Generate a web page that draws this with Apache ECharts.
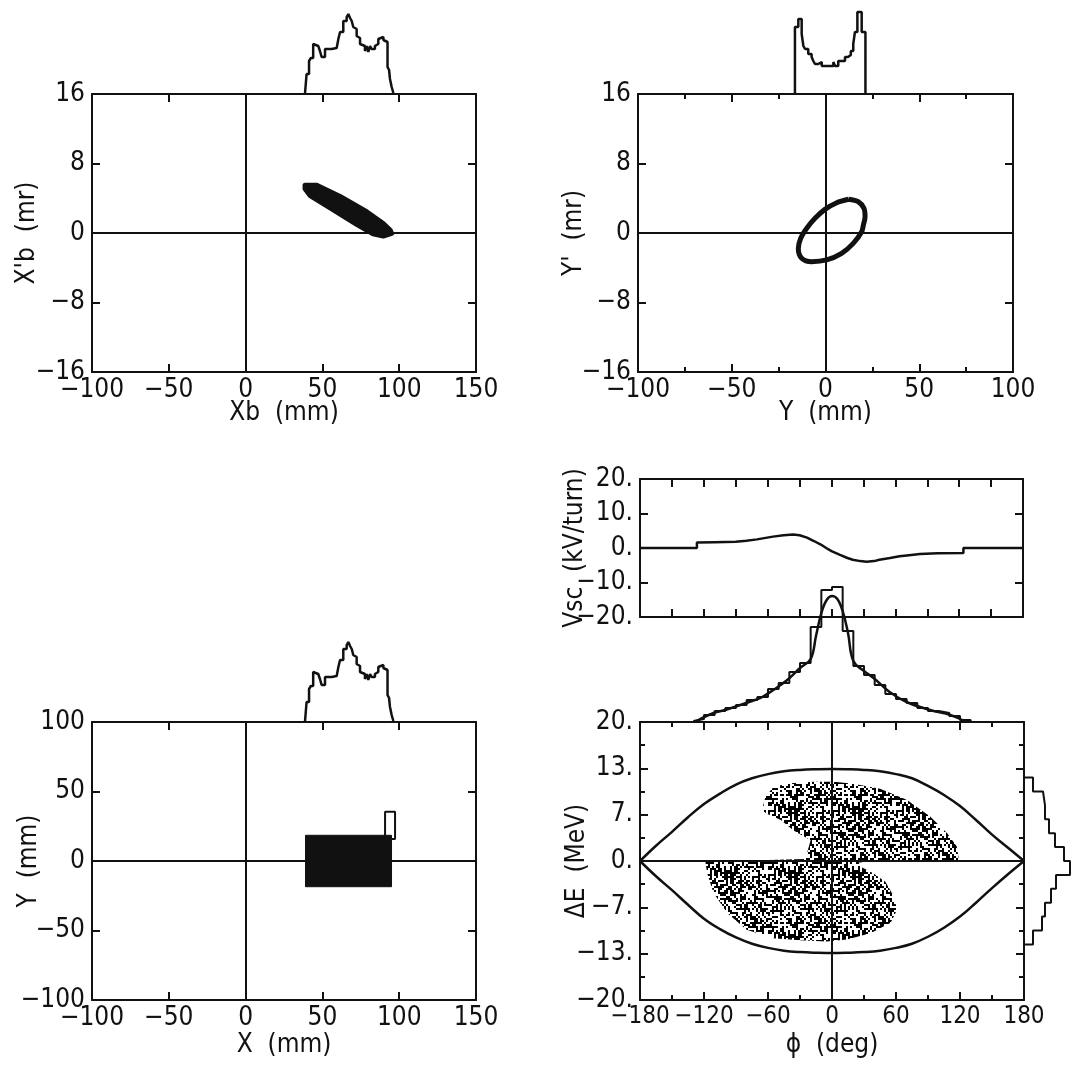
<!DOCTYPE html>
<html><head><meta charset="utf-8">
<script src="https://cdn.jsdelivr.net/npm/echarts@6/dist/echarts.min.js"></script>
<style>html,body{margin:0;padding:0;background:#fff}#c{width:1073px;height:1072px}</style>
</head><body><div id="c"></div><script>
const FONT = "'Liberation Sans Narrow','DejaVu Sans Condensed','Liberation Sans',sans-serif";
const FS = 26;
const INK = '#111';

// ---------------- DATA ----------------
// Top-left: (Xb, X'b) beam outline (filled)
const xbOutlineXb  = [38.7, 46.3, 61.5, 78.8, 89.6, 94.0, 95.1, 89.6, 83.0, 72.3, 55.0, 42.0, 38.7];
const xbOutlineXpb = [5.5, 5.5, 4.2, 2.45, 1.1, 0.35, -0.04, -0.35, -0.1, 1.0, 2.9, 4.3, 5.1];
// Top-right: (Y, Y') ring (centre line)
const yRingY  = [12.2, 17.5, 20.5, 21.1, 20.2, 19.3, 14.8, 8.6, 0.6, -7.4, -12.7, -14.5, -13.2, -10.0, -5.6, -0.3, 6.0, 12.2];
const yRingYp = [3.88, 3.6, 2.84, 1.88, 0.92, 0.15, -1.19, -2.34, -3.1, -3.3, -2.9, -1.77, -0.6, 0.54, 1.69, 2.72, 3.49, 3.88];
// X profile histogram (bin edges in mm, counts)
const xHistEdges = [38.7,39.7,41.3,42.5,44.0,45.0,47.3,48.4,49.5,51.7,56.0,59.3,60.4,61.5,63.6,65.8,66.9,68.0,69.1,70.1,71.2,72.3,73.4,74.5,75.6,77.7,78.8,79.9,81.0,82.0,84.2,85.3,86.4,87.5,89.7,90.7,92.4,93.4,94.0,95.1,96.2];
const xHistCounts = [2,19,32,35,49,47,46,42,36,44,45,47,54,61,72,76,79,75,72,66,64,57,55,49,47,42,47,41,47,44,47,49,54,56,53,51,26,23,14,6];
// Y profile histogram
const yHistEdges = [-16.3,-14.5,-12.7,-11.8,-10.9,-9.2,-7.4,-6.5,-5.6,-3.8,-2.0,4.2,5.1,6.8,10.4,12.0,13.5,14.8,15.7,17.0,19.3,21.3];
const yHistCounts = [66,74,59,47,44,39,36,32,29,31,27,31,27,32,36,38,42,49,61,81,61];
// Bottom-left: (X, Y) beam block and small box
const xyBlockX = [39, 95, 95, 39];
const xyBlockY = [18.5, 18.5, -18.5, -18.5];
const xyBoxX = [90.8, 97.3, 97.3, 90.8, 90.8];
const xyBoxY = [15.8, 15.8, 35.5, 35.5, 15.8];
// Space-charge voltage vs phase
const vscPhi = [-180,-126.5,-126.5,-110,-90,-80,-70,-55,-45,-36,-30,-23,-17,-10,-5,0,8,15,20,27,33,40,45,55,64,75,83,100,124,124,180];
const vscVal = [0,0,1.6,1.7,1.8,2.1,2.5,3.3,3.7,3.9,3.7,3.0,2.1,1.0,0,-0.9,-2.0,-2.9,-3.4,-3.8,-4.0,-3.8,-3.4,-2.9,-2.4,-2.0,-1.75,-1.5,-1.45,0,0];
// Separatrix
const sepPhi   = [-180,-165,-150,-135,-120,-105,-90,-75,-60,-45,-30,-15,0,15,30,45,60,75,90,105,120,135,150,165,180];
const sepUpper = [0,2.2,4.2,6.3,8.2,9.7,11.0,11.9,12.5,12.9,13.1,13.2,13.25,13.2,13.1,12.9,12.5,11.9,10.8,9.5,7.9,5.9,3.8,1.9,0];
const sepLower = [0,-2.2,-4.2,-6.3,-8.3,-9.8,-11.0,-11.9,-12.5,-12.9,-13.1,-13.2,-13.25,-13.2,-13.1,-12.9,-12.5,-11.9,-10.9,-9.6,-8.0,-6.0,-3.9,-1.9,0];
// Particle cloud outline in (phi, dE)
const cloudPhi = [-118.8,-70,-25,-20,-36,-48,-61,-65.6,-62.5,-54.7,-39,-17,1.6,20,45,70,92,108,117,119,60,25,26.5,39,50,58,61,55,36,14,-5,-30,-55,-80,-98,-111,-117];
const cloudDE  = [0,0.1,0.3,3,4.4,5.9,6.8,7.3,9.2,10.7,11.2,11.4,11.4,11.1,10.4,8.8,6.4,4.0,2.1,0.1,0.0,-0.2,-0.8,-1.8,-3.0,-5.1,-7.0,-8.9,-10.4,-11.3,-11.6,-11.4,-11.1,-9.9,-7.5,-4.6,-1.8];
const corePhi = [-22,-12,0,12,24,28,18,0,-12,-22];
const coreDE  = [1,4,5.5,3.5,0,-3.5,-5.5,-6,-3.5,-1];
// Phase histogram and fitted curve
const phiHistEdges = [-130,-120,-110,-100,-90,-80,-70,-60,-50,-40,-30,-20,-10,0,10,20,30,40,50,60,70,80,90,100,110,120,130];
const phiHistCounts = [2,6,10,13,16,21,24,32,38,49,58,94,131,134,90,55,46,36,27,22,18,13,10,8,5,1];
const phiFitPhi = [-127,-111,-100,-86,-75,-67,-55,-42,-30,-20,-15,-10,-5,0,5,10,15,20,30,39,54,70,92,111,124];
const phiFitVal = [0,8,11,16,20,23,31,41,53,62,85,108,121,125,122,110,88,60,50,43,29,19,11,6,0];
// Energy histogram
const dEHistEdges = [-12,-10,-8,-6,-4,-2,0,2,4,6,8,10,12];
const dEHistCounts = [8,17,20,26,31,45,39,30,24,20,18,8];

// ---------------- HELPERS ----------------
const option = {animation:false, backgroundColor:'#fff', grid:[], xAxis:[], yAxis:[], series:[]};
const lineS = {color:INK, width:2};
const txt = {color:INK, fontFamily:FONT, fontSize:FS, overflow:'none'};
const minus = v => String(v).replace('-', '\u2212');
function addGrid(box){ option.grid.push(Object.assign({show:false, containLabel:false, outerBoundsMode:'none'}, box)); return option.grid.length-1; }
function axisBase(g, c){
  return {gridIndex:g, type:'value', min:c.min, max:c.max, interval:c.interval, splitLine:{show:false},
    axisLine:{show:true,onZero:false,lineStyle:lineS},
    axisTick:{show:true,inside:true,length:8,lineStyle:lineS},
    minorTick:{show:!!c.minor, splitNumber:c.minor||2, length:5, lineStyle:lineS}};
}
function mainX(g, c){
  const lab = {show:c.labels!==false, color:INK, fontFamily:FONT, fontSize:c.fs||FS, margin:5, showMinLabel:true, showMaxLabel:true, hideOverlap:false, formatter:c.fmt||minus};
  const ax = Object.assign(axisBase(g,c), {position:'bottom', axisLabel:lab, nameMoveOverlap:false});
  if (c.name) Object.assign(ax, {name:c.name, nameLocation:'middle', nameGap:c.nameGap||30, nameTextStyle:txt});
  option.xAxis.push(ax);
  const i = option.xAxis.length-1;
  option.xAxis.push(Object.assign(axisBase(g,c), {position:'top', axisLabel:{show:false}}));
  return i;
}
function mainY(g, c){
  option.yAxis.push(Object.assign(axisBase(g,c), {position:'left',
    axisLabel:{show:true, color:INK, fontFamily:FONT, fontSize:FS, margin:7, showMinLabel:true, showMaxLabel:true, hideOverlap:false, formatter:c.fmt||minus},
    name:c.name||'', nameLocation:'middle', nameGap:c.nameGap||50, nameRotate:90, nameMoveOverlap:false, nameTextStyle:txt}));
  const i = option.yAxis.length-1;
  option.yAxis.push(Object.assign(axisBase(g,c), {position:'right', axisLabel:{show:false}}));
  return i;
}
function hidX(g,min,max){ option.xAxis.push({gridIndex:g,type:'value',min,max,show:false,splitLine:{show:false}}); return option.xAxis.length-1; }
function hidY(g,min,max){ option.yAxis.push({gridIndex:g,type:'value',min,max,show:false,splitLine:{show:false}}); return option.yAxis.length-1; }
function line(xi, yi, data, extra){
  option.series.push(Object.assign({type:'line', xAxisIndex:xi, yAxisIndex:yi, data, symbol:'none', showSymbol:false, silent:true, clip:false,
    lineStyle:{color:INK,width:2}}, extra||{}));
}
function zeroLines(xi, yi){
  option.series.push({type:'line', xAxisIndex:xi, yAxisIndex:yi, data:[[0,0]], symbol:'none', showSymbol:false, silent:true, lineStyle:{width:0},
    markLine:{silent:true, symbol:'none', label:{show:false}, animation:false, lineStyle:{color:INK,width:2,type:'solid'}, data:[{xAxis:0},{yAxis:0}]}});
}
function polygon(xi, yi, xs, ys, style){
  option.series.push({type:'custom', xAxisIndex:xi, yAxisIndex:yi, silent:true, clip:false,
    data: xs.map((x,i)=>[x, ys[i]]), encode:{x:0, y:1},
    renderItem: (params, api) => {
      if (params.dataIndex !== 0) return null;
      return {type:'polygon', shape:{points: xs.map((x,i)=>api.coord([x, ys[i]]))}, style: style};
    }});
}
function stepPts(edges, counts){
  const p = [[edges[0],0]];
  counts.forEach((c,i)=>{ p.push([edges[i],c]); p.push([edges[i+1],c]); });
  p.push([edges[edges.length-1],0]);
  return p;
}
// stipple texture (pure styling): 2px cells switched on by a fixed integer hash
function stipple(size, pct, color){
  const c = document.createElement('canvas'); c.width = c.height = size;
  const g = c.getContext('2d'); g.fillStyle = color;
  for (let i=0;i<size/2;i++) for (let j=0;j<size/2;j++){
    let h = (i*374761393 + j*668265263) >>> 0; h = ((h ^ (h>>>13)) * 1274126177) >>> 0; h = (h ^ (h>>>16)) >>> 0;
    if (h % 100 < pct) g.fillRect(i*2, j*2, 2, 2);
  }
  return c;
}

// ---------------- PANELS ----------------
// Top-left
const gTL = addGrid({left:92, top:94, width:384, height:278});
const xTL = mainX(gTL, {min:-100,max:150,interval:50,name:'Xb  (mm)',nameGap:28});
const yTL = mainY(gTL, {min:-16,max:16,interval:8,name:"X'b  (mr)",nameGap:52});
zeroLines(xTL, yTL);
polygon(xTL, yTL, xbOutlineXb, xbOutlineXpb, {fill:INK, stroke:INK, lineWidth:5, lineJoin:'round'});

// Top-right
const gTR = addGrid({left:638, top:94, width:375, height:278});
const xTR = mainX(gTR, {min:-100,max:100,interval:50,minor:2,name:'Y  (mm)',nameGap:28});
const yTR = mainY(gTR, {min:-16,max:16,interval:8,name:"Y'  (mr)",nameGap:51});
zeroLines(xTR, yTR);
line(xTR, yTR, yRingY.map((v,i)=>[v, yRingYp[i]]), {smooth:0.3, lineStyle:{color:INK,width:5}});

// Histograms above top panels
const gHTL = addGrid({left:92, top:10, width:384, height:83});
const xHTL = hidX(gHTL,-100,150), yHTL = hidY(gHTL,0,83);
line(xHTL, yHTL, stepPts(xHistEdges, xHistCounts), {lineStyle:{color:INK,width:2.5}});
const gHTR = addGrid({left:638, top:10, width:375, height:83});
const xHTR = hidX(gHTR,-100,100), yHTR = hidY(gHTR,0,83);
line(xHTR, yHTR, stepPts(yHistEdges, yHistCounts), {lineStyle:{color:INK,width:2.5}});

// Vsc panel
const gV = addGrid({left:640, top:479, width:383, height:138});
const xV = mainX(gV, {min:-180,max:180,interval:30,labels:false});
const yV = mainY(gV, {min:-20,max:20,interval:10,name:'Vsc  (kV/turn)',nameGap:52, fmt:v=>minus(v)+'.'});
line(xV, yV, vscPhi.map((p,i)=>[p, vscVal[i]]), {lineStyle:{color:INK,width:2.5}});

// Bottom-left
const gBL = addGrid({left:92, top:722, width:384, height:278});
const xBL = mainX(gBL, {min:-100,max:150,interval:50,name:'X  (mm)',nameGap:32});
const yBL = mainY(gBL, {min:-100,max:100,interval:50,name:'Y  (mm)',nameGap:50});
zeroLines(xBL, yBL);
polygon(xBL, yBL, xyBlockX, xyBlockY, {fill:INK, stroke:INK, lineWidth:1});
line(xBL, yBL, xyBoxX.map((x,i)=>[x, xyBoxY[i]]));
const gHBL = addGrid({left:92, top:638, width:384, height:83});
const xHBL = hidX(gHBL,-100,150), yHBL = hidY(gHBL,0,83);
line(xHBL, yHBL, stepPts(xHistEdges, xHistCounts), {lineStyle:{color:INK,width:2.5}});

// Bottom-right phase space
const gBR = addGrid({left:640, top:722, width:384, height:278});
const xBR = mainX(gBR, {min:-180,max:180,interval:60,minor:2,fs:24,name:'\u03d5  (deg)',nameGap:32});
const yBR = mainY(gBR, {min:-20,max:20,interval:20/3,minor:2,name:'\u0394E  (MeV)',nameGap:50, fmt:v=>minus(Math.round(v))+'.'});
polygon(xBR, yBR, cloudPhi, cloudDE, {fill:{image:stipple(64,50,'#000'), repeat:'repeat'}});
polygon(xBR, yBR, corePhi, coreDE, {fill:{image:stipple(64,40,'#000'), repeat:'repeat'}});
zeroLines(xBR, yBR);
line(xBR, yBR, sepPhi.map((p,i)=>[p, sepUpper[i]]), {smooth:0.4, lineStyle:{color:INK,width:2.5}});
line(xBR, yBR, sepPhi.map((p,i)=>[p, sepLower[i]]), {smooth:0.4, lineStyle:{color:INK,width:2.5}});
const gHBR = addGrid({left:640, top:582, width:384, height:139});
const xHBR = hidX(gHBR,-180,180), yHBR = hidY(gHBR,0,139);
line(xHBR, yHBR, stepPts(phiHistEdges, phiHistCounts), {lineStyle:{color:INK,width:2}});
line(xHBR, yHBR, phiFitPhi.map((p,i)=>[p, phiFitVal[i]]), {smooth:0.4, lineStyle:{color:INK,width:2.5}});
const gHR = addGrid({left:1025, top:722, width:48, height:278});
const xHR = hidX(gHR,0,48), yHR = hidY(gHR,-20,20);
line(xHR, yHR, stepPts(dEHistEdges, dEHistCounts).map(p=>[p[1], p[0]]), {lineStyle:{color:INK,width:2}});

const chart = echarts.init(document.getElementById('c'), null, {renderer:'canvas'});
chart.setOption(option);
</script></body></html>
